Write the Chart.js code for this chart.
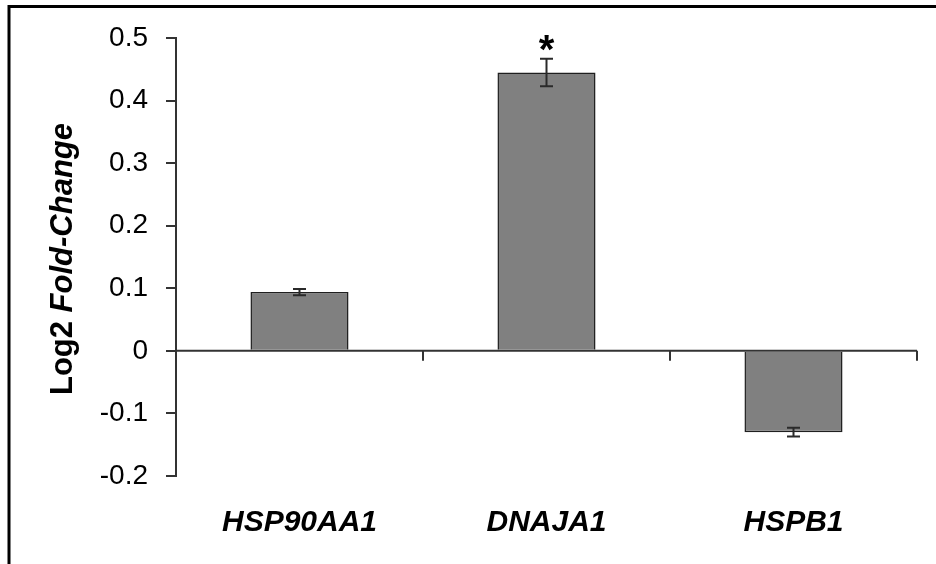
<!DOCTYPE html>
<html>
<head>
<meta charset="utf-8">
<script src="https://cdn.jsdelivr.net/npm/chart.js@4"></script>
<style>
  html, body { margin: 0; padding: 0; background: #fff; }
  #wrap { width: 936px; height: 564px; }
</style>
</head>
<body>
<div id="wrap"><canvas id="foldChart"></canvas></div>
<script>
const genes = ["HSP90AA1", "DNAJA1", "HSPB1"];
const foldChange = [0.094, 0.445, -0.130];
const errors = [0.005, 0.022, 0.007];
const signif = ["", "*", ""];
const yTicks = [0.5, 0.4, 0.3, 0.2, 0.1, 0, -0.1, -0.2];

const FONT = "'Liberation Sans', Arial, sans-serif";
const AXIS_COLOR = "#333";

// cadre, ligne du zéro, barres d'erreur, astérisques, titre de l'axe Y
const extras = {
  id: "extras",
  beforeDraw(chart) {
    const ctx = chart.ctx;
    ctx.save();
    ctx.fillStyle = "#fff";
    ctx.fillRect(0, 0, chart.width, chart.height);
    ctx.strokeStyle = "#000";
    ctx.lineWidth = 3;
    ctx.beginPath();
    ctx.moveTo(9, chart.height);
    ctx.lineTo(9, 6.5);
    ctx.lineTo(chart.width, 6.5);
    ctx.stroke();
    ctx.restore();
  },
  afterDatasetsDraw(chart) {
    const ctx = chart.ctx;
    const x = chart.scales.x;
    const y = chart.scales.y;
    const area = chart.chartArea;
    const y0 = y.getPixelForValue(0);
    ctx.save();

    // axe horizontal au zéro avec graduations entre catégories
    ctx.strokeStyle = AXIS_COLOR;
    ctx.lineWidth = 2;
    ctx.beginPath();
    ctx.moveTo(area.left, y0);
    ctx.lineTo(area.right, y0);
    for (let i = 1; i <= genes.length; i++) {
      const bx = i < genes.length
        ? (x.getPixelForValue(i - 1) + x.getPixelForValue(i)) / 2
        : area.right;
      ctx.moveTo(bx, y0);
      ctx.lineTo(bx, y0 + 10);
    }
    ctx.stroke();

    // barres d'erreur
    ctx.lineWidth = 2;
    ctx.strokeStyle = "#2a2a2a";
    genes.forEach((g, i) => {
      const cx = x.getPixelForValue(i);
      const top = y.getPixelForValue(foldChange[i] + errors[i]);
      const bot = y.getPixelForValue(foldChange[i] - errors[i]);
      ctx.beginPath();
      ctx.moveTo(cx, top);
      ctx.lineTo(cx, bot);
      ctx.moveTo(cx - 6.5, top);
      ctx.lineTo(cx + 6.5, top);
      ctx.moveTo(cx - 6.5, bot);
      ctx.lineTo(cx + 6.5, bot);
      ctx.stroke();

      if (signif[i]) {
        ctx.fillStyle = "#000";
        ctx.font = "bold 40px " + FONT;
        ctx.textAlign = "center";
        ctx.textBaseline = "alphabetic";
        ctx.fillText(signif[i], cx, top + 4);
      }
    });

    // titre de l'axe Y : "Log2 " normal + "Fold-Change" italique
    const partA = "Log2 ";
    const partB = "Fold-Change";
    const fA = "bold 31px " + FONT;
    const fB = "italic bold 31px " + FONT;
    ctx.font = fA;
    const wA = ctx.measureText(partA).width;
    ctx.font = fB;
    const wB = ctx.measureText(partB).width;
    const midY = (area.top + area.bottom) / 2 + 2;
    ctx.translate(72, midY);
    ctx.rotate(-Math.PI / 2);
    ctx.fillStyle = "#000";
    ctx.textAlign = "left";
    ctx.textBaseline = "alphabetic";
    const start = -(wA + wB) / 2;
    ctx.font = fA;
    ctx.fillText(partA, start, 0);
    ctx.font = fB;
    ctx.fillText(partB, start + wA, 0);
    ctx.restore();
  }
};

const ctx = document.getElementById("foldChart").getContext("2d");
new Chart(ctx, {
  type: "bar",
  data: {
    labels: genes,
    datasets: [
      {
        data: foldChange,
        backgroundColor: "#808080",
        borderColor: "#1f1f1f",
        borderWidth: 1.5,
        categoryPercentage: 1,
        barPercentage: 0.397,
      },
    ],
  },
  options: {
    responsive: true,
    maintainAspectRatio: false,
    animation: false,
    layout: { padding: { left: 0, right: 19, top: 38, bottom: 0 } },
    plugins: {
      legend: { display: false },
      tooltip: { enabled: false },
    },
    scales: {
      x: {
        grid: { display: false },
        border: { display: false },
        ticks: {
          color: "#000",
          padding: 21,
          font: { family: FONT, size: 30, style: "italic", weight: "bold" },
        },
        afterFit: (scale) => { scale.height = 88; },
      },
      y: {
        min: -0.2,
        max: 0.5,
        afterBuildTicks: (scale) => {
          scale.ticks = yTicks.map((v) => ({ value: v }));
        },
        ticks: {
          color: "#000",
          padding: 18,
          font: { family: FONT, size: 28 },
          callback: (v) => String(Math.round(v * 10) / 10),
        },
        grid: {
          drawOnChartArea: false,
          drawTicks: true,
          tickLength: 10,
          color: AXIS_COLOR,
          lineWidth: 2,
        },
        border: { display: true, color: AXIS_COLOR, width: 2 },
        afterFit: (scale) => { scale.width = 176; },
      },
    },
  },
  plugins: [extras],
});
</script>
</body>
</html>
